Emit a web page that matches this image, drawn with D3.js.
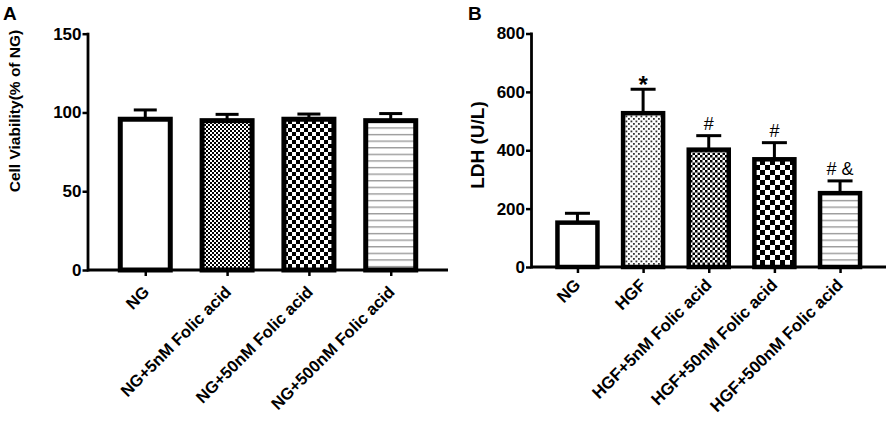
<!DOCTYPE html>
<html><head><meta charset="utf-8">
<script src="https://cdn.jsdelivr.net/npm/d3@7/dist/d3.min.js"></script>
<style>
body{margin:0;background:#fff;}
text{font-family:"Liberation Sans",Arial,sans-serif;font-weight:bold;fill:#000;}
</style></head>
<body><svg id="c" width="886" height="422"></svg>
<script>
// Panel A data
const catsA = ["NG","NG+5nM Folic acid","NG+50nM Folic acid","NG+500nM Folic acid"];
const valsA = [95.7, 94.8, 95.7, 94.8];
const errA  = [101.6, 98.8, 99.0, 99.3];
const fillsA = ["white","fineCheck","checkA","hlines"];
const ticksA = [0,50,100,150];

// Panel B data
const catsB = ["NG","HGF","HGF+5nM Folic acid","HGF+50nM Folic acid","HGF+500nM Folic acid"];
const valsB = [152, 527, 402, 369, 253];
const errB  = [184, 609, 450, 426, 295];
const fillsB = ["white","dots","fineCheckB","checkB","hlines"];
const marksB = ["", "*", "#", "#", "# &"];
const ticksB = [0,200,400,600,800];

const svg = d3.select("#c");
const defs = svg.append("defs");
function checker(id, s){
  const p = defs.append("pattern").attr("id",id).attr("patternUnits","userSpaceOnUse").attr("width",2*s).attr("height",2*s);
  p.append("rect").attr("width",2*s).attr("height",2*s).attr("fill","#fff");
  p.append("rect").attr("width",s).attr("height",s).attr("fill","#000");
  p.append("rect").attr("x",s).attr("y",s).attr("width",s).attr("height",s).attr("fill","#000");
}
checker("fineCheck",2);
checker("fineCheckB",2.5);
checker("checkA",4);
checker("checkB",5);
(function(){
  const p = defs.append("pattern").attr("id","hlines").attr("patternUnits","userSpaceOnUse").attr("width",10).attr("height",6.6);
  p.append("rect").attr("width",10).attr("height",6.6).attr("fill","#fff");
  p.append("rect").attr("y",2).attr("width",10).attr("height",1.2).attr("fill","#8a8a8a");
  const q = defs.append("pattern").attr("id","dots").attr("patternUnits","userSpaceOnUse").attr("width",5).attr("height",5);
  q.append("rect").attr("width",5).attr("height",5).attr("fill","#fff");
  q.append("rect").attr("x",0.5).attr("y",0.5).attr("width",1.8).attr("height",1.8).attr("fill","#333");
  q.append("rect").attr("x",3).attr("y",3).attr("width",1.8).attr("height",1.8).attr("fill","#333");
})();

function panel(o){
  const g = svg.append("g");
  const x = d3.scalePoint().domain(o.cats).range([o.x0,o.x1]).padding(0.7);
  const y = d3.scaleLinear().domain(o.dom).range([o.yb,o.yt]);
  // bars
  o.cats.forEach((c,i)=>{
    const cx = x(c);
    g.append("rect").attr("x",cx-o.bw/2).attr("y",y(o.vals[i])).attr("width",o.bw)
      .attr("height",y(0)-y(o.vals[i])).attr("fill",o.fills[i]==="white"?"#fff":"url(#"+o.fills[i]+")")
      .attr("stroke","#000").attr("stroke-width",o.sw);
    g.append("line").attr("x1",cx).attr("x2",cx).attr("y1",y(o.vals[i])).attr("y2",y(o.errs[i])).attr("stroke","#000").attr("stroke-width",3);
    g.append("line").attr("x1",cx-o.cap/2).attr("x2",cx+o.cap/2).attr("y1",y(o.errs[i])).attr("y2",y(o.errs[i])).attr("stroke","#000").attr("stroke-width",3);
  });
  // y axis
  const ya = g.append("g").attr("transform",`translate(${o.x0},0)`).call(d3.axisLeft(y).tickValues(o.ticks).tickSize(5.5).tickPadding(1));
  ya.select(".domain").remove();
  ya.selectAll(".tick line").attr("stroke-width",2.5);
  ya.selectAll(".tick text").style("font-size","17px");
  g.append("line").attr("x1",o.x0).attr("x2",o.x0).attr("y1",y(o.dom[1])-1).attr("y2",y(0)+1.5).attr("stroke","#000").attr("stroke-width",2.8);
  // x axis
  const xa = g.append("g").attr("transform",`translate(0,${y(0)})`).call(d3.axisBottom(x).tickSize(6).tickFormat(""));
  xa.select(".domain").remove();
  xa.selectAll(".tick line").attr("stroke-width",2.5);
  g.append("line").attr("x1",o.x0).attr("x2",o.x1).attr("y1",y(0)).attr("y2",y(0)).attr("stroke","#000").attr("stroke-width",3);
  // x labels
  o.cats.forEach(c=>{
    g.append("text").attr("transform",`translate(${x(c)+o.lx},${y(0)+o.ly}) rotate(-45)`)
      .attr("text-anchor","end").style("font-size",o.lfs+"px").text(c);
  });
  // y title
  g.append("text").attr("transform",`translate(${o.tx},${o.ty}) rotate(-90)`).attr("text-anchor","middle")
    .style("font-size",o.tfs+"px").text(o.title);
  // panel letter
  g.append("text").attr("x",o.px).attr("y",20).style("font-size","19px").text(o.letter);
  return {x,y,g};
}

panel({cats:catsA,vals:valsA,errs:errA,fills:fillsA,ticks:ticksA,dom:[0,150],x0:88,x1:448,yb:270,yt:33.7,
  bw:50,sw:5,cap:23,lx:5,ly:23,lfs:16.5,tx:20,ty:111,tfs:15.5,title:"Cell Viability(% of NG)",px:3,letter:"A"});
const pb = panel({cats:catsB,vals:valsB,errs:errB,fills:fillsB,ticks:ticksB,dom:[0,800],x0:531.5,x1:886,yb:267,yt:33.5,
  bw:40,sw:4.5,cap:25,lx:4,ly:19,lfs:16.8,tx:484,ty:145,tfs:19,title:"LDH (U/L)",px:468,letter:"B"});
catsB.forEach((c,i)=>{
  if(!marksB[i]) return;
  const star = marksB[i]==="*";
  pb.g.append("text").attr("x",pb.x(c)).attr("y",pb.y(errB[i])-(star?-4:6)).attr("text-anchor","middle")
    .style("font-size",star?"24px":"18px").style("font-weight",star?"bold":"normal").text(marksB[i]);
});
</script></body></html>
